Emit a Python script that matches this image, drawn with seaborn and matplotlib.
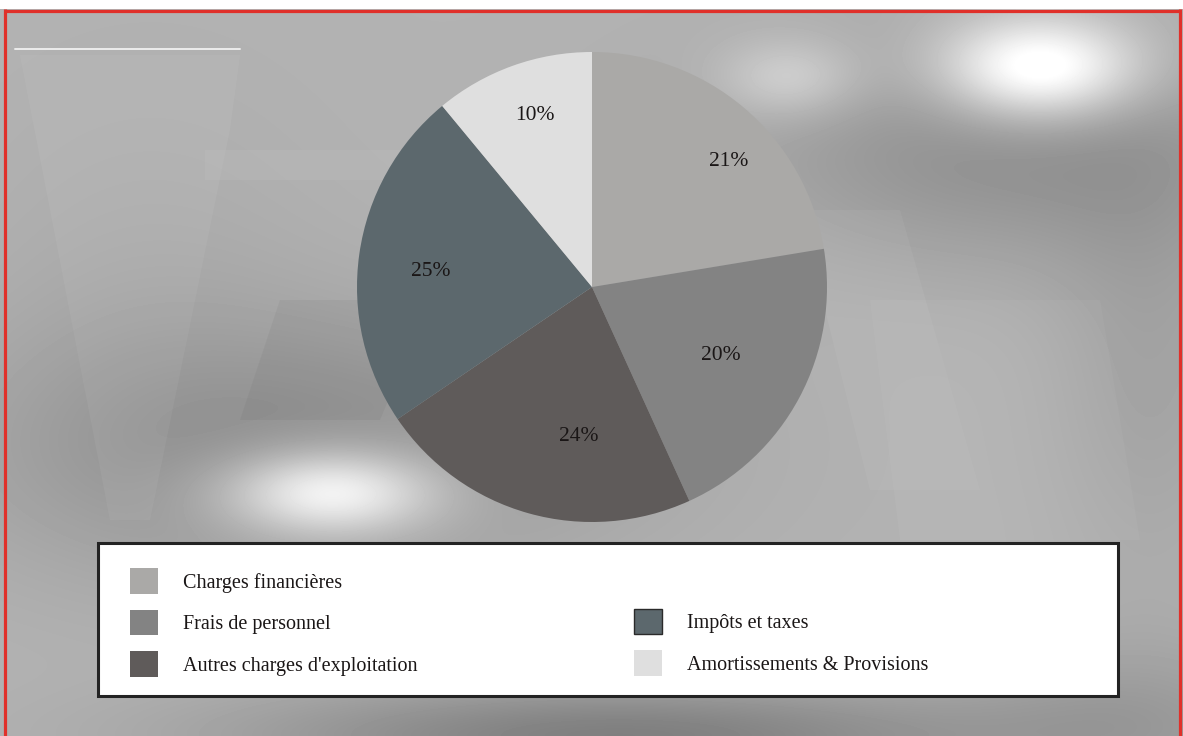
import numpy as np
import matplotlib
matplotlib.use("Agg")
import matplotlib.pyplot as plt
import seaborn as sns
from matplotlib.patches import Patch, Rectangle, Polygon

# ---------------- data ----------------
categories = ["Charges financières", "Frais de personnel",
              "Autres charges d'exploitation", "Impôts et taxes",
              "Amortissements & Provisions"]
# slice sizes as drawn in the reference
shares = [22.4, 20.8, 22.3, 23.5, 11.0]
# percentage labels as printed
pct_labels = ["21%", "20%", "24%", "25%", "10%"]
colors = ["#aaa9a7", "#838383", "#5f5b5a", "#5c686d", "#dfdfdf"]

sns.set_theme(style="white")
plt.rcParams['font.family'] = ['Liberation Serif', 'DejaVu Serif']

W, H = 1183, 736
fig = plt.figure(figsize=(W / 100, H / 100), dpi=100)
fig.patch.set_facecolor('white')

# ---------------- decorative blurred background ----------------
bg = fig.add_axes([0, 0, 1, 1])
bg.set_axis_off()
yy, xx = np.mgrid[0:H, 0:W].astype(float)


def blob(cx, cy, sx, sy, a):
    return a * np.exp(-(((xx - cx) / sx) ** 2 + ((yy - cy) / sy) ** 2) / 2)


img = np.full((H, W), 0.70)
img += blob(1010, 150, 190, 80, -0.13)
img += blob(1040, 68, 70, 36, 0.40)
img += blob(790, 78, 50, 28, 0.14)
img += blob(300, 450, 230, 90, -0.12)
img += blob(330, 492, 75, 30, 0.36)
img += blob(620, 735, 260, 35, -0.20)
img += blob(1130, 720, 120, 60, -0.08)
img += blob(1150, 350, 70, 160, -0.06)
img += blob(150, 330, 130, 160, -0.03)
img = np.clip(img, 0, 1)
bg.imshow(img, cmap='gray', vmin=0, vmax=1, extent=[0, W, H, 0],
          aspect='auto', interpolation='bilinear', zorder=0)
bg.set_xlim(0, W)
bg.set_ylim(H, 0)

# faint geometric shapes
for pts, c, a in [
    ([(20, 55), (240, 55), (230, 130), (150, 520), (110, 520)], 'white', 0.05),
    ([(205, 150), (430, 150), (430, 180), (205, 180)], 'white', 0.05),
    ([(280, 300), (430, 300), (380, 420), (240, 420)], 'black', 0.04),
    ([(800, 210), (900, 210), (980, 490), (870, 490)], 'white', 0.05),
    ([(870, 300), (1100, 300), (1140, 540), (900, 540)], 'white', 0.04),
]:
    bg.add_patch(Polygon(pts, closed=True, fc=c, ec='none', alpha=a, zorder=1))

# white strip at top and red frame
bg.add_patch(Rectangle((0, 0), W, 9, fc='white', ec='none', zorder=2))
red = '#e0302a'
bg.plot([4, 1181], [10.5, 10.5], color=red, lw=2.3, solid_capstyle='butt', zorder=3)
bg.plot([5.5, 5.5], [9, H], color=red, lw=2.3, solid_capstyle='butt', zorder=3)
bg.plot([1180, 1180], [9, H], color=red, lw=2.3, solid_capstyle='butt', zorder=3)
# thin light rule at top-left
bg.plot([15, 240], [49, 49], color='#ececec', lw=1.4, zorder=3)

# legend box
bg.add_patch(Rectangle((98, 543), 1020, 153, fc='white', ec='#232323', lw=2.2, zorder=4))

# ---------------- pie ----------------
cx, cy, R = 592, 287, 235
ax = fig.add_axes([(cx - R) / W, (H - cy - R) / H, 2 * R / W, 2 * R / H])
ax.set_axis_off()
wedges, _ = ax.pie(shares, colors=colors, startangle=90, counterclock=False,
                   radius=1, wedgeprops=dict(linewidth=0))
ax.set_xlim(-1, 1)
ax.set_ylim(-1, 1)

lab_r = [0.79, 0.62, 0.64, 0.69, 0.77]
lab_shift = [7.0, 0.0, -10.7, -2.5, 1.3]
for w, t, r, s in zip(wedges, pct_labels, lab_r, lab_shift):
    ang = np.deg2rad((w.theta1 + w.theta2) / 2 - s)
    ax.text(r * np.cos(ang), r * np.sin(ang), t, ha='center', va='center',
            fontsize=15.5, color='#1a1616')

# ---------------- legends ----------------
fs = 14.5
fpx = fs * 100 / 72
common = dict(frameon=False, borderpad=0, borderaxespad=0, fontsize=fs,
              handlelength=28 / fpx, handleheight=1.2 * 27 / fpx,
              handletextpad=25 / fpx, labelspacing=0.77,
              labelcolor='#1a1616')


def handle(i):
    if i == 3:
        return Patch(facecolor=colors[i], edgecolor='#2a2a2a', linewidth=1.0)
    return Patch(facecolor=colors[i], edgecolor='none')


leg1 = fig.legend([handle(i) for i in range(3)], categories[:3], loc='upper left',
                  bbox_to_anchor=(130 / W, 1 - 568 / H), **common)
leg2 = fig.legend([handle(i) for i in range(3, 5)], categories[3:], loc='upper left',
                  bbox_to_anchor=(634 / W, 1 - 608.5 / H), **common)

fig.savefig('out.png', dpi=100)
